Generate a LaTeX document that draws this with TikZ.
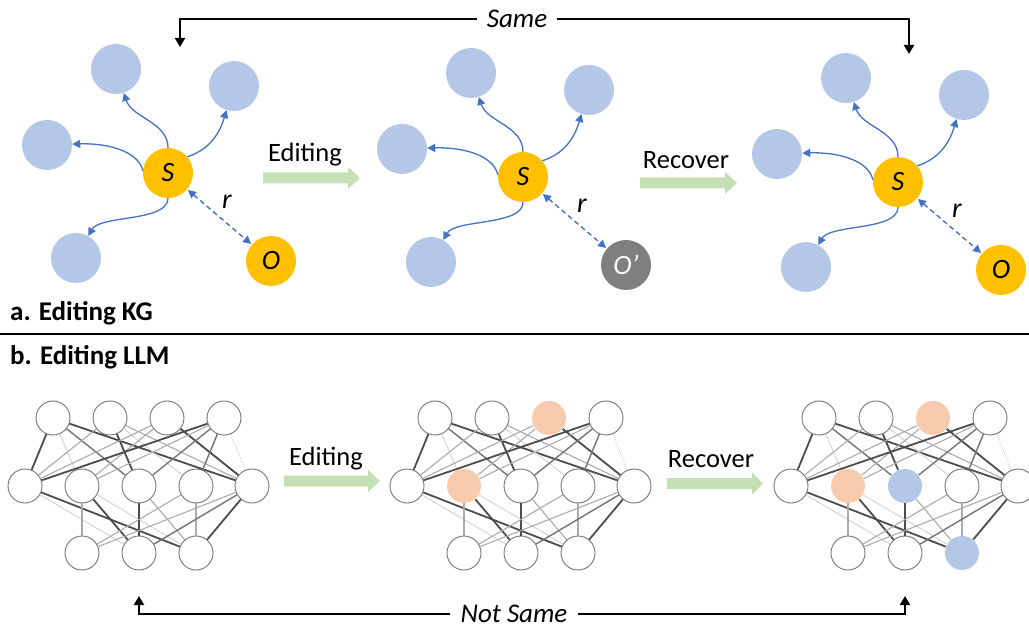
\documentclass[tikz,border=0pt]{standalone}
\usepackage{fontspec}
\setmainfont{Carlito}
\usetikzlibrary{arrows.meta}
\definecolor{entblue}{HTML}{B4C7E7}
\definecolor{gold}{HTML}{FFC000}
\definecolor{objgray}{HTML}{7F7F7F}
\definecolor{linkblue}{HTML}{4472C4}
\definecolor{arrgreen}{HTML}{C5E0B4}
\definecolor{peach}{HTML}{F8CBAD}
\tikzset{
 ent/.style={circle,fill=entblue,minimum size=50pt,inner sep=0},
 subj/.style={circle,fill=gold,minimum size=50pt,inner sep=0,font=\fontsize{28}{32}\selectfont\itshape},
 objO/.style={subj},
 objP/.style={subj,fill=objgray,text=white},
 rel/.style={linkblue,line width=1.3pt,-{Triangle[length=8pt,width=8pt]}},
 reld/.style={linkblue,line width=1.4pt,dash pattern=on 5pt off 3.5pt,{Triangle[length=8pt,width=8pt]}-{Triangle[length=8pt,width=8pt]},shorten <=1pt,shorten >=1pt},
 rlab/.style={font=\fontsize{28}{32}\selectfont\itshape},
 neuron/.style={circle,draw=black!55,line width=0.9pt,fill=white,minimum size=34pt,inner sep=0},
 ewd/.style={black!70,line width=1.8pt},
 ewm/.style={black!55,line width=1.4pt},
 ewl/.style={black!33,line width=1.1pt},
 ewv/.style={black!18,line width=0.9pt},
 ewdot/.style={black!28,line width=0.9pt,dotted},
 lbl/.style={font=\fontsize{26.5}{30}\selectfont},
 ilbl/.style={font=\fontsize{27}{30}\selectfont\itshape,fill=white,inner xsep=10pt,inner ysep=0pt},
 sec/.style={font=\fontsize{27}{30}\selectfont\bfseries,anchor=west,inner sep=0},
 bigarr/.style={line width=2.5pt,-{Triangle[length=9pt,width=10pt]}},
 fT1/.style={},fT2/.style={},fT3/.style={},fT4/.style={},
 fM1/.style={},fM2/.style={},fM3/.style={},fM4/.style={},fM5/.style={},
 fB1/.style={},fB2/.style={},fB3/.style={},
 pe/.style={fill=peach,draw=none},
 bl/.style={fill=entblue,draw=none}
}
\newcommand\grarrow[4]{% x start, head base x, tip x, center y
 \fill[arrgreen] (#1,#4-5.5) -- (#2,#4-5.5) -- (#2,#4-11) -- (#3,#4) -- (#2,#4+11) -- (#2,#4+5.5) -- (#1,#4+5.5) -- cycle;}
\newcommand\kgraph[5]{% prefix, dx, dy, O text, O style
 \begin{scope}[shift={(#2,#3)}]
 \node[subj] (#1S) at (168,173) {S};
 \node[ent] (#1a) at (116,69) {};
 \node[ent] (#1b) at (234,86) {};
 \node[ent] (#1c) at (47,145) {};
 \node[ent] (#1d) at (76,258) {};
 \node[#5] (#1O) at (271,261) {#4};
 \node[rlab] (#1r) at (227,202) {r};
 \draw[rel] (#1S.north) .. controls (168,122) and (132,118) .. (#1a);
 \draw[rel] (#1S.40) .. controls (215,148) and (222,125) .. (#1b);
 \draw[rel] (#1S.175) .. controls (138,150) and (105,143) .. (#1c);
 \draw[rel] (#1S.south) .. controls (168,222) and (100,215) .. (#1d);
 \draw[reld] (#1S) -- (#1O);
 \end{scope}}
\newcommand\nnet[2]{% prefix, dx
 \begin{scope}[shift={(#2,0)}]
 \foreach \n/\x/\y in {T1/53/418,T2/110/418,T3/167/418,T4/224/418,M1/25/486,M2/82/486,M3/139/486,M4/196/486,M5/252/486,B1/82/553,B2/139/553,B3/196/553}{
   \edef\mystyle{f\n}
   \node[neuron,\mystyle] (#1\n) at (\x,\y) {};}
 \foreach \a/\b/\s in {T1/M1/ewd,T1/M5/ewd,T1/M3/ewm,T1/M2/ewv,T2/M3/ewd,T2/M1/ewl,T2/M5/ewl,T2/M4/ewv,T3/M1/ewl,T3/M2/ewl,T3/M5/ewd,T4/M1/ewd,T4/M2/ewl,T4/M3/ewm,T4/M4/ewm,T4/M5/ewdot,M1/B3/ewd,M1/B2/ewv,M2/B2/ewd,M2/B1/ewl,M2/B3/ewv,M3/B2/ewd,M3/B3/ewl,M4/B3/ewl,M4/B1/ewl,M5/B3/ewd,M5/B2/ewm,M5/B1/ewl}
   \draw[\s] (#1\a) -- (#1\b);
 \end{scope}}
\begin{document}
\begin{tikzpicture}[x=1pt,y=-1pt]
\useasboundingbox (0,0) rectangle (1029,628);
% knowledge graphs
\kgraph{A}{0}{0}{O}{objO}
\kgraph{B}{355}{4}{O’}{objP}
\kgraph{C}{730}{9}{O}{objO}
% same connector
\node[ilbl] (same) at (517,19) {Same};
\coordinate (sameL) at (180,47);
\coordinate (sameR) at (909,54);
\draw[bigarr] (same.west) -| (sameL);
\draw[bigarr] (same.east) -| (sameR);
% green arrows top
\node[lbl] (ed1) at (305,155) {Editing};
\grarrow{263}{348}{360}{178}
\node[lbl] (rc1) at (686,160) {Recover};
\grarrow{640}{725}{737}{183}
% section labels
\node[sec] (seca) at (10,313) {a. Editing KG};
\coordinate (divL) at (0,334);
\coordinate (divR) at (1029,334);
\draw[line width=2.5pt] (divL) -- (divR);
\node[sec] (secb) at (10,357) {b. Editing LLM};
% networks
\nnet{L}{0}
\begin{scope}[fT3/.style={pe},fM2/.style={pe}]
\nnet{N}{382}
\end{scope}
\begin{scope}[fT3/.style={pe},fM2/.style={pe},fM3/.style={bl},fB3/.style={bl}]
\nnet{R}{766}
\end{scope}
% green arrows bottom
\node[lbl] (ed2) at (326,459) {Editing};
\grarrow{284}{368}{380}{481}
\node[lbl] (rc2) at (711,459) {Recover};
\grarrow{667}{752}{763}{483.5}
% not same connector
\node[ilbl] (nsame) at (514,614) {Not Same};
\coordinate (nsL) at (139,596);
\coordinate (nsR) at (905,596);
\draw[bigarr] (nsame.west) -| (nsL);
\draw[bigarr] (nsame.east) -| (nsR);
\end{tikzpicture}
\end{document}
